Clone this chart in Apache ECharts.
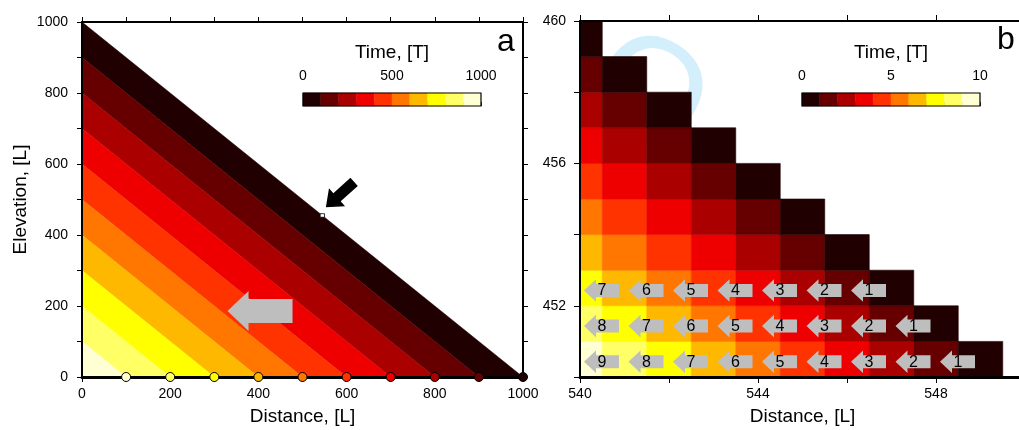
<!DOCTYPE html>
<html>
<head>
<meta charset="utf-8">
<title>Time</title>
<script src="https://cdn.jsdelivr.net/npm/echarts@6/dist/echarts.min.js"></script>
<style>
html, body { margin: 0; padding: 0; background: #fff; }
#chart { width: 1019px; height: 430px; }
</style>
</head>
<body>
<div id="chart"></div>
<script>
// colour scale shared by both panels (10 bands, dark = early)
const bandColors = ['#200000', '#660000', '#aa0000', '#ee0000', '#ff3300', '#ff7700', '#ffb800', '#ffff00', '#ffff66', '#ffffd4'];

// ---- panel a ----
const timeEdgesA = [0, 100, 200, 300, 400, 500, 600, 700, 800, 900, 1000];
// where each isochron (time edge above) meets both axes
const isoInterceptA = [1000, 900, 800, 700, 600, 500, 400, 300, 200, 100, 0];
const stationX = [100, 200, 300, 400, 500, 600, 700, 800, 900, 1000];
const stationTime = [900, 800, 700, 600, 500, 400, 300, 200, 100, 0];
const zoomBox = [540, 550, 450, 460]; // x0, x1, y0, y1 of panel b
const grayArrowTipA = [330, 186];
const blackArrowTipA = [553, 478];

// ---- panel b ----
const timeEdgesB = [0, 1, 2, 3, 4, 5, 6, 7, 8, 9, 10];
const cellX = [540, 541, 542, 543, 544, 545, 546, 547, 548, 549];
const cellY = [450, 451, 452, 453, 454, 455, 456, 457, 458, 459];
// time per cell, one row per cellY, starting at x = 540
const cellTime = [
  [9.5, 8.5, 7.5, 6.5, 5.5, 4.5, 3.5, 2.5, 1.5, 0.5],
  [8.5, 7.5, 6.5, 5.5, 4.5, 3.5, 2.5, 1.5, 0.5],
  [7.5, 6.5, 5.5, 4.5, 3.5, 2.5, 1.5, 0.5],
  [6.5, 5.5, 4.5, 3.5, 2.5, 1.5, 0.5],
  [5.5, 4.5, 3.5, 2.5, 1.5, 0.5],
  [4.5, 3.5, 2.5, 1.5, 0.5],
  [3.5, 2.5, 1.5, 0.5],
  [2.5, 1.5, 0.5],
  [1.5, 0.5],
  [0.5]
];
const arrowRowY = [452.5, 451.5, 450.5];
const arrowLabels = [
  [7, 6, 5, 4, 3, 2, 1],
  [8, 7, 6, 5, 4, 3, 2, 1],
  [9, 8, 7, 6, 5, 4, 3, 2, 1]
];

const FONT = '"Liberation Sans", Arial, Helvetica, sans-serif';

function bandIndex(t, edges) {
  for (let k = 0; k < edges.length - 1; k++) {
    if (t >= edges[k] && t < edges[k + 1]) return k;
  }
  return edges.length - 2;
}

// arrow outline in pixels, tip + direction it points to
function arrowPoints(tip, dir, len, headLen, headHalf, shaftHalf) {
  const dx = dir[0], dy = dir[1];
  const nx = -dy, ny = dx;
  const bx = tip[0] - dx * headLen, by = tip[1] - dy * headLen;
  const tx = tip[0] - dx * len, ty = tip[1] - dy * len;
  return [
    tip,
    [bx + nx * headHalf, by + ny * headHalf],
    [bx + nx * shaftHalf, by + ny * shaftHalf],
    [tx + nx * shaftHalf, ty + ny * shaftHalf],
    [tx - nx * shaftHalf, ty - ny * shaftHalf],
    [bx - nx * shaftHalf, by - ny * shaftHalf],
    [bx - nx * headHalf, by - ny * headHalf]
  ];
}

// data for the series
const bandData = [];
for (let k = 0; k < bandColors.length; k++) {
  bandData.push([isoInterceptA[k + 1], isoInterceptA[k], k]);
}
const stationData = stationX.map((x, i) => [x, 0, stationTime[i]]);

const cellData = [];
cellTime.forEach((row, j) => {
  row.forEach((t, i) => cellData.push([cellX[i], cellY[j], t]));
});
const arrowData = [];
arrowLabels.forEach((row, j) => {
  row.forEach((lab, i) => arrowData.push([cellX[i], arrowRowY[j], lab]));
});

const colorbarA = [];
const colorbarB = [];
for (let k = 0; k < bandColors.length; k++) {
  colorbarA.push([timeEdgesA[k], timeEdgesA[k + 1], k]);
  colorbarB.push([timeEdgesB[k], timeEdgesB[k + 1], k]);
}

const tickLabel = { color: '#000', fontSize: 14, fontFamily: FONT };
const nameStyle = { color: '#000', fontSize: 19, fontFamily: FONT };
const black = { color: '#000', width: 1 };

function frameAxis(extra) {
  return Object.assign({
    type: 'value',
    z: 4,
    splitLine: { show: false },
    axisLine: { show: true, onZero: false, lineStyle: { color: '#000', width: 2 } },
    axisTick: { show: true, length: 5, lineStyle: black },
    axisLabel: { show: false }
  }, extra);
}

function bandRect(params, api) {
  const p0 = api.coord([api.value(0), 1]);
  const p1 = api.coord([api.value(1), 0]);
  const c = bandColors[api.value(2)];
  return {
    type: 'rect',
    shape: { x: p0[0], y: p0[1], width: p1[0] - p0[0], height: p1[1] - p0[1] },
    style: { fill: c, stroke: c, lineWidth: 0.5 }
  };
}

const chart = echarts.init(document.getElementById('chart'));

const option = {
  backgroundColor: '#fff',
  animation: false,
  grid: [
    { left: 82, top: 22, width: 441, height: 355, outerBoundsMode: 'none' },
    { left: 580, top: 21, width: 445, height: 356, outerBoundsMode: 'none' },
    { left: 303, top: 93, width: 178, height: 13, outerBoundsMode: 'none', show: true, borderColor: '#000', borderWidth: 1.2, z: 5 },
    { left: 802, top: 93, width: 178, height: 13, outerBoundsMode: 'none', show: true, borderColor: '#000', borderWidth: 1.2, z: 5 }
  ],
  xAxis: [
    frameAxis({
      gridIndex: 0, position: 'bottom', min: 0, max: 1000, interval: 100,
      axisLine: { show: true, onZero: false, lineStyle: { color: '#000', width: 3 } },
      axisLabel: Object.assign({ margin: 10, formatter: v => (v % 200 === 0 ? String(v) : '') }, tickLabel),
      name: 'Distance, [L]', nameLocation: 'middle', nameGap: 30, nameTextStyle: nameStyle
    }),
    frameAxis({ gridIndex: 0, position: 'top', min: 0, max: 1000, interval: 100 }),
    frameAxis({
      gridIndex: 1, position: 'bottom', min: 540, max: 550, interval: 2,
      axisLine: { show: true, onZero: false, lineStyle: { color: '#000', width: 3 } },
      axisTick: { show: true, length: 6, lineStyle: black },
      axisLabel: Object.assign({ margin: 10, formatter: v => (v % 4 === 0 ? String(v) : '') }, tickLabel),
      name: 'Distance, [L]', nameLocation: 'middle', nameGap: 30, nameTextStyle: nameStyle
    }),
    frameAxis({ gridIndex: 1, position: 'top', min: 540, max: 550, interval: 2, axisTick: { show: true, length: 6, lineStyle: black } }),
    {
      type: 'value', gridIndex: 2, position: 'top', min: 0, max: 1000, interval: 100,
      splitLine: { show: false },
      axisLine: { show: false },
      axisTick: { show: true, length: 4, lineStyle: black },
      axisLabel: Object.assign({ margin: 10, formatter: v => (v % 500 === 0 ? String(v) : '') }, tickLabel),
      name: 'Time, [T]', nameLocation: 'middle', nameGap: 31, nameTextStyle: nameStyle
    },
    {
      type: 'value', gridIndex: 3, position: 'top', min: 0, max: 10, interval: 1,
      splitLine: { show: false },
      axisLine: { show: false },
      axisTick: { show: true, length: 4, lineStyle: black },
      axisLabel: Object.assign({ margin: 10, formatter: v => (v % 5 === 0 ? String(v) : '') }, tickLabel),
      name: 'Time, [T]', nameLocation: 'middle', nameGap: 31, nameTextStyle: nameStyle
    }
  ],
  yAxis: [
    frameAxis({
      gridIndex: 0, position: 'left', min: 0, max: 1000, interval: 100,
      axisLabel: Object.assign({ margin: 14, formatter: v => (v % 200 === 0 ? String(v) : '') }, tickLabel),
      name: 'Elevation, [L]', nameLocation: 'middle', nameGap: 52, nameTextStyle: nameStyle
    }),
    frameAxis({ gridIndex: 0, position: 'right', min: 0, max: 1000, interval: 100 }),
    frameAxis({
      gridIndex: 1, position: 'left', min: 450, max: 460, interval: 2,
      axisTick: { show: true, length: 6, lineStyle: black },
      axisLabel: Object.assign({ margin: 14, formatter: v => (v % 4 === 0 ? String(v) : '') }, tickLabel)
    }),
    frameAxis({ gridIndex: 1, position: 'right', min: 450, max: 460, interval: 2 }),
    { type: 'value', gridIndex: 2, min: 0, max: 1, show: false },
    { type: 'value', gridIndex: 3, min: 0, max: 1, show: false }
  ],
  graphic: {
    elements: [
      {
        // faint review watermark, mostly hidden behind panel b
        type: 'text', z: -10, silent: true,
        x: 598, y: 66, rotation: -33 * Math.PI / 180,
        style: { text: 'O', fill: '#d4effc', font: '145px ' + FONT, align: 'left', verticalAlign: 'middle' }
      },
      { type: 'text', left: 497, top: 26, style: { text: 'a', fill: '#000', font: '32px ' + FONT } },
      { type: 'text', left: 997, top: 24, style: { text: 'b', fill: '#000', font: '32px ' + FONT } }
    ]
  },
  series: [
    {
      // isochron bands, panel a
      type: 'custom', xAxisIndex: 0, yAxisIndex: 0, clip: true, z: 2,
      data: bandData,
      renderItem: function (params, api) {
        const a = api.value(0), b = api.value(1);
        const c = bandColors[api.value(2)];
        return {
          type: 'polygon',
          shape: { points: [api.coord([a, 0]), api.coord([b, 0]), api.coord([0, b]), api.coord([0, a])] },
          style: { fill: c, stroke: c, lineWidth: 0.5 }
        };
      }
    },
    {
      type: 'custom', xAxisIndex: 0, yAxisIndex: 0, clip: false, z: 3,
      data: [zoomBox],
      renderItem: function (params, api) {
        const p0 = api.coord([api.value(0), api.value(3)]);
        const p1 = api.coord([api.value(1), api.value(2)]);
        return {
          type: 'rect',
          shape: { x: p0[0], y: p0[1], width: p1[0] - p0[0], height: p1[1] - p0[1] },
          style: { fill: '#fff', stroke: '#000', lineWidth: 0.8 }
        };
      }
    },
    {
      type: 'custom', xAxisIndex: 0, yAxisIndex: 0, clip: false, z: 3,
      data: [grayArrowTipA],
      renderItem: function (params, api) {
        const p = api.coord([api.value(0), api.value(1)]);
        return {
          type: 'polygon',
          shape: { points: arrowPoints(p, [-1, 0], 65, 21, 20, 12) },
          style: { fill: '#bebebe' }
        };
      }
    },
    {
      type: 'custom', xAxisIndex: 0, yAxisIndex: 0, clip: false, z: 3,
      data: [blackArrowTipA],
      renderItem: function (params, api) {
        const p = api.coord([api.value(0), api.value(1)]);
        const ang = 42 * Math.PI / 180;
        return {
          type: 'polygon',
          shape: { points: arrowPoints(p, [-Math.cos(ang), Math.sin(ang)], 38, 15, 12, 5.5) },
          style: { fill: '#000' }
        };
      }
    },
    {
      type: 'scatter', xAxisIndex: 0, yAxisIndex: 0, clip: false, z: 10,
      symbol: 'circle', symbolSize: 9,
      data: stationData,
      itemStyle: {
        borderColor: '#000', borderWidth: 1, opacity: 1,
        color: params => bandColors[bandIndex(params.value[2], timeEdgesA)]
      }
    },
    {
      // travel time grid, panel b
      type: 'custom', xAxisIndex: 2, yAxisIndex: 2, clip: true, z: 2,
      data: cellData,
      renderItem: function (params, api) {
        const x = api.value(0), y = api.value(1);
        const p0 = api.coord([x - 0.5, y + 1]);
        const p1 = api.coord([x + 0.5, y]);
        const c = bandColors[bandIndex(api.value(2), timeEdgesB)];
        return {
          type: 'rect',
          shape: { x: p0[0], y: p0[1], width: p1[0] - p0[0], height: p1[1] - p0[1] },
          style: { fill: c, stroke: c, lineWidth: 0.6 }
        };
      }
    },
    {
      type: 'custom', xAxisIndex: 2, yAxisIndex: 2, clip: true, z: 3,
      data: arrowData,
      renderItem: function (params, api) {
        const p = api.coord([api.value(0), api.value(1)]);
        return {
          type: 'group',
          children: [
            {
              type: 'polygon',
              shape: { points: arrowPoints([p[0] + 4, p[1] + 2.5], [-1, 0], 35, 12, 11.3, 6.5) },
              style: { fill: '#bebebe' }
            },
            {
              type: 'text', x: p[0] + 22, y: p[1] + 3,
              style: { text: String(api.value(2)), fill: '#000', font: '16px ' + FONT, align: 'center', verticalAlign: 'middle' }
            }
          ]
        };
      }
    },
    { type: 'custom', xAxisIndex: 4, yAxisIndex: 4, z: 2, data: colorbarA, renderItem: bandRect },
    { type: 'custom', xAxisIndex: 5, yAxisIndex: 5, z: 2, data: colorbarB, renderItem: bandRect }
  ]
};

chart.setOption(option);
</script>
</body>
</html>
